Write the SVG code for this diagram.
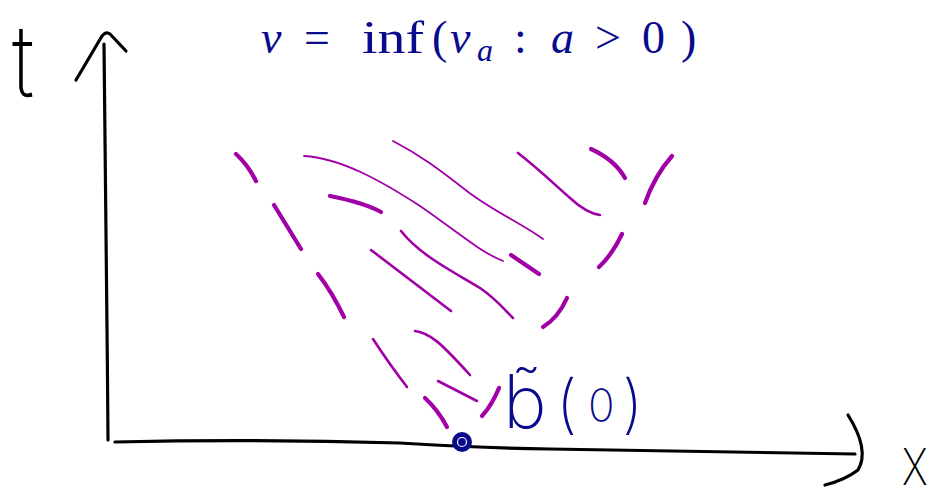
<svg xmlns="http://www.w3.org/2000/svg" width="931" height="497" viewBox="0 0 931 497">
<style>
.ink{fill:none;stroke:#000;stroke-width:3.2;stroke-linecap:round;stroke-linejoin:round}
.pu{fill:none;stroke:#a000a6;stroke-width:4.2;stroke-linecap:round;stroke-linejoin:round}
.thin{stroke-width:1.8}
.mid{stroke-width:2.6}
.hand{font-family:Inter,"DejaVu Sans",sans-serif;font-weight:200}
.math{font-family:"Liberation Serif","DejaVu Serif",serif;fill:#0a0a8c;font-size:46px}
.it{font-style:italic}
</style>
<rect width="931" height="497" fill="#fff"/>
<g id="axes">
  <path class="ink" d="M104,44 C105,150 107,300 108,440"/>
  <path class="ink" d="M76,80 L102,36 Q106,31 110,34 L126,51"/>
  <path class="ink" d="M115,442 C200,440 300,440 400,443 C450,446 480,448 550,449 L855,454"/>
  <path class="ink" d="M848,415 Q870,450 858,470 Q845,480 825,485"/>
</g>
<g id="labels-axes">
  <text class="hand" transform="translate(12,97) scale(0.82,1)" font-size="100" fill="#000">t</text>
  <text class="hand" transform="translate(902,485) scale(0.8,1)" font-size="50" fill="#000">X</text>
</g>
<g id="formula" class="math">
  <text x="261" y="53" class="it">v</text>
  <text x="304" y="53">=</text>
  <text x="362" y="53" textLength="62" lengthAdjust="spacingAndGlyphs">inf</text>
  <text x="432" y="53">(</text>
  <text x="450" y="53" class="it">v</text>
  <text x="477" y="61" class="it" font-size="32">a</text>
  <text x="514" y="53">:</text>
  <text x="551" y="53" class="it">a</text>
  <text x="595" y="53">&gt;</text>
  <text x="642" y="53">0</text>
  <text x="681" y="53">)</text>
</g>
<g id="region">
  <path class="pu" d="M236,154 Q248,165 256,181"/>
  <path class="pu thin" d="M304,156 C340,158 380,180 420,206 C455,230 480,252 503,261"/>
  <path class="pu thin" d="M393,141 C420,155 440,170 463,188 C490,210 520,222 543,239"/>
  <path class="pu mid" d="M518,153 C540,170 555,185 570,198 C582,209 592,214 600,215"/>
  <path class="pu" d="M591,149 Q615,160 625,178"/>
  <path class="pu" d="M672,156 Q655,175 645,203"/>
  <path class="pu" d="M274,205 L301,249"/>
  <path class="pu" d="M330,196 Q365,203 381,212"/>
  <path class="pu mid" d="M401,231 C420,255 450,270 480,288 C495,298 505,310 513,318"/>
  <path class="pu mid" d="M371,250 L451,311"/>
  <path class="pu" d="M511,255 L539,274"/>
  <path class="pu" d="M622,234 Q612,255 599,267"/>
  <path class="pu" d="M318,274 Q332,292 344,317"/>
  <path class="pu" d="M567,298 Q558,318 543,327"/>
  <path class="pu mid" d="M415,331 C430,333 440,342 470,375"/>
  <path class="pu mid" d="M373,339 Q390,365 407,387"/>
  <path class="pu mid" d="M438,381 L477,401"/>
  <path class="pu" d="M499,388 Q492,405 482,416"/>
  <path class="pu" d="M425,398 Q438,410 447,427"/>
</g>
<g id="point">
  <circle cx="462" cy="442" r="10" fill="#0a0a8c"/>
  <circle cx="462" cy="442" r="4.5" fill="none" stroke="#fff" stroke-width="1.2"/>
  <circle cx="462" cy="442" r="1.5" fill="#0a0a8c"/>
</g>
<g id="point-label" class="hand" fill="#0a0a8c" font-weight="300">
  <text x="503" y="428" font-size="74">b̃</text>
  <text x="556" y="426" font-size="64">(</text>
  <text x="588" y="421" font-size="44">0</text>
  <text x="622" y="426" font-size="64">)</text>
</g>
</svg>
